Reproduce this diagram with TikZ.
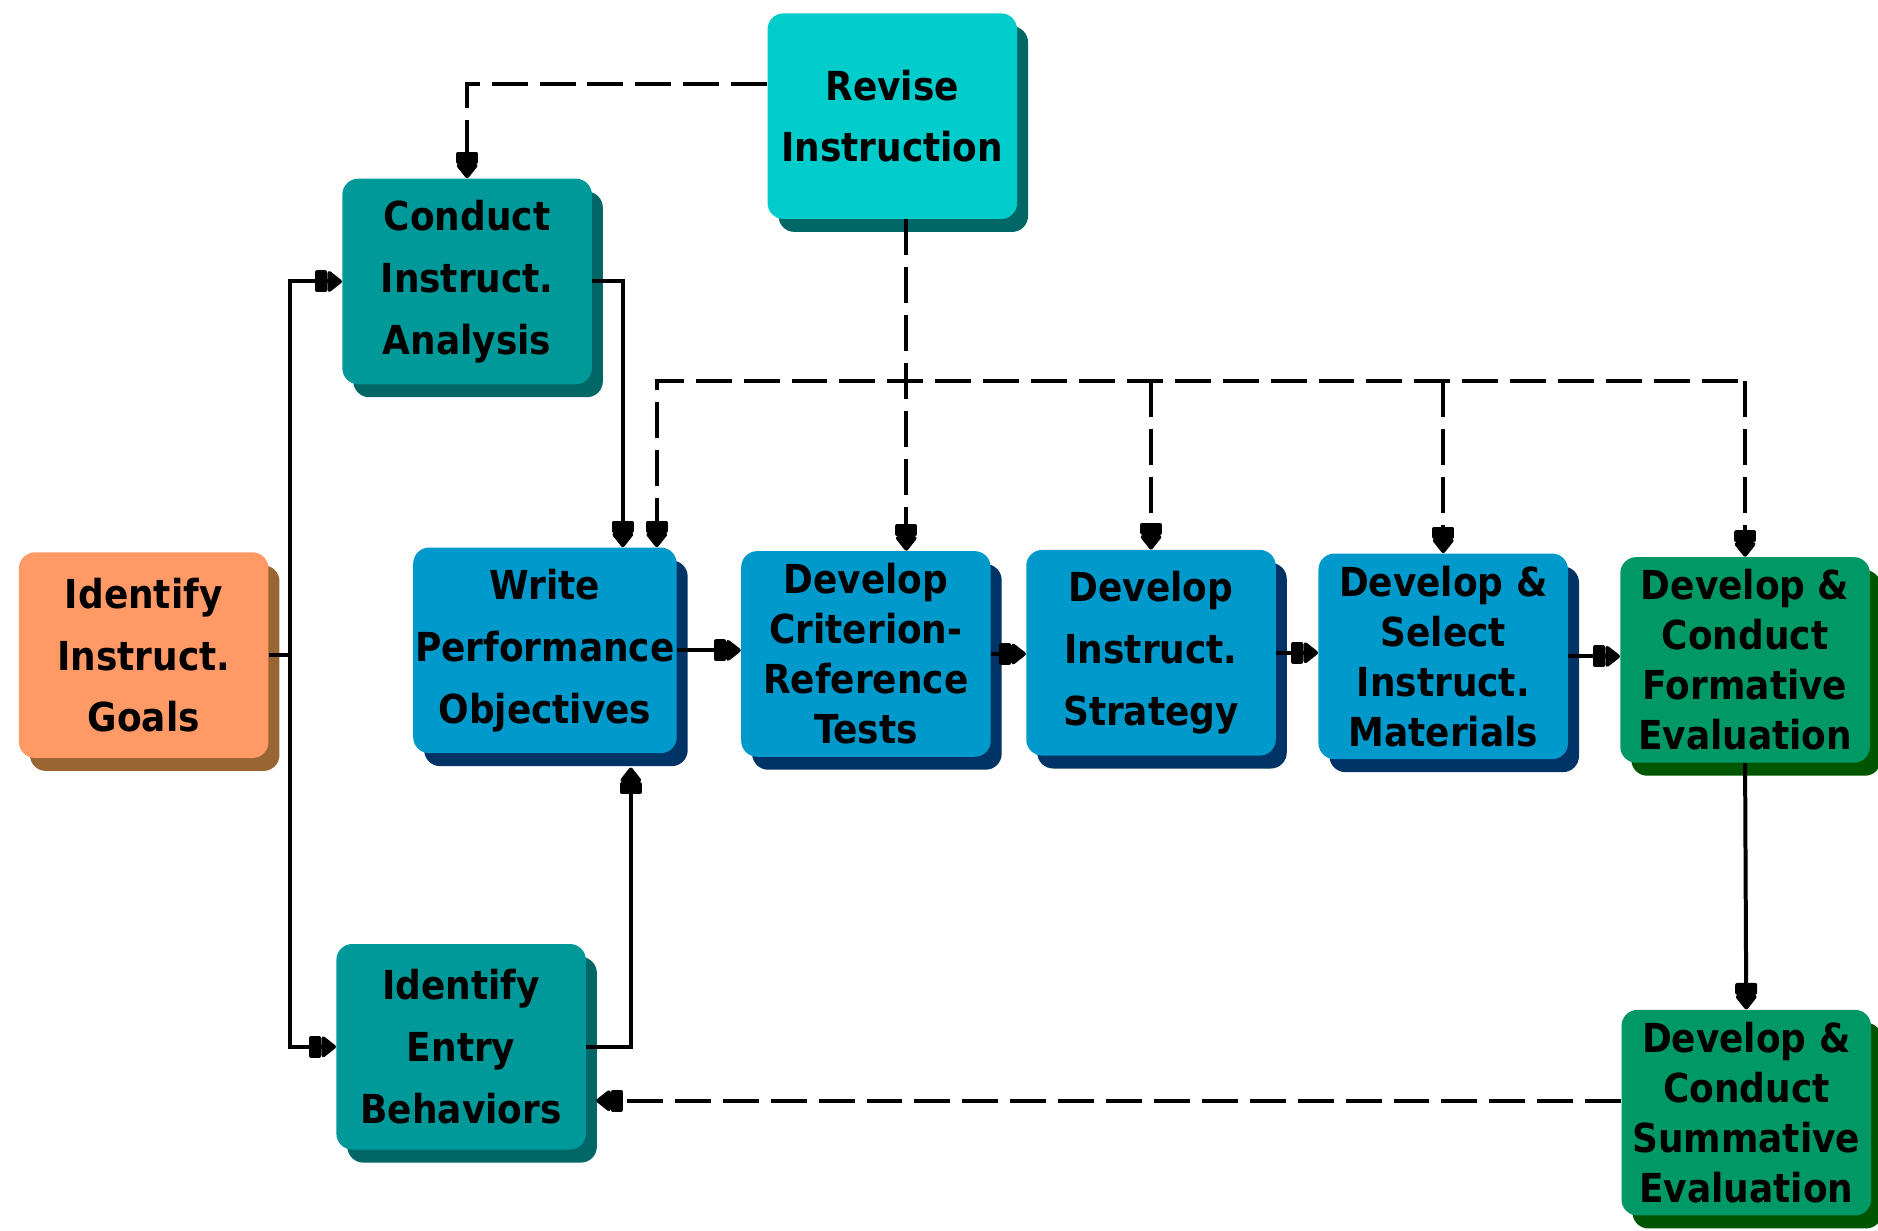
\documentclass[tikz,border=0pt]{standalone}
\usepackage{fontspec}
\setmainfont{DejaVu Sans Condensed}
\usepackage{xcolor}
\usetikzlibrary{arrows.meta, shadows}

\definecolor{goalface}{HTML}{FF9966}
\definecolor{goalshade}{HTML}{996633}
\definecolor{reviseface}{HTML}{00CCCC}
\definecolor{tealface}{HTML}{009999}
\definecolor{tealshade}{HTML}{006666}
\definecolor{blueface}{HTML}{0099CC}
\definecolor{blueshade}{HTML}{003366}
\definecolor{greenface}{HTML}{009966}
\definecolor{greenshade}{HTML}{005500}

\begin{document}
\begin{tikzpicture}[x=0.6pt, y=-0.6pt,
    box/.style = {rounded corners=8pt, minimum width=125pt, minimum height=103pt,
                  inner sep=0pt, align=center, font=\fontsize{20}{31}\selectfont\bfseries},
    tight/.style = {font=\fontsize{20}{25}\selectfont\bfseries},
    goalbox/.style = {box, fill=goalface, drop shadow={shadow xshift=5.5pt, shadow yshift=-6.5pt, fill=goalshade, opacity=1}},
    revisebox/.style = {box, fill=reviseface, drop shadow={shadow xshift=5.5pt, shadow yshift=-6.5pt, fill=tealshade, opacity=1}},
    tealbox/.style = {box, fill=tealface, drop shadow={shadow xshift=5.5pt, shadow yshift=-6.5pt, fill=tealshade, opacity=1}},
    bluebox/.style = {box, fill=blueface, drop shadow={shadow xshift=5.5pt, shadow yshift=-6.5pt, fill=blueshade, opacity=1}},
    greenbox/.style = {box, fill=greenface, drop shadow={shadow xshift=5.5pt, shadow yshift=-6.5pt, fill=greenshade, opacity=1}},
    tip/.tip = {Rectangle[length=6pt, width=11pt, round] Triangle[length=8pt, width=12pt, round]},
    link/.style = {line width=2pt, black},
    feedback/.style = {link, dash pattern=on 18pt off 6pt}]
    \useasboundingbox (0,0) rectangle (1568,1027);

    \node[revisebox] (revise) at (745,97) {Revise\\Instruction};
    \node[tealbox] (conduct) at (390,235) {Conduct\\Instruct.\\Analysis};
    \node[goalbox] (goals) at (120,547) {Identify\\Instruct.\\Goals};
    \node[bluebox, minimum width=132pt] (write) at (455,543) {Write\\Performance\\Objectives};
    \node[bluebox, tight] (criterion) at (723,546) {Develop\\Criterion-\\Reference\\Tests};
    \node[bluebox] (strategy) at (961,545) {Develop\\Instruct.\\Strategy};
    \node[bluebox, tight] (materials) at (1205,548) {Develop \&\\Select\\Instruct.\\Materials};
    \node[greenbox, tight] (formative) at (1457,551) {Develop \&\\Conduct\\Formative\\Evaluation};
    \node[greenbox, tight] (summative) at (1458,929) {Develop \&\\Conduct\\Summative\\Evaluation};
    \node[tealbox] (entry) at (385,874) {Identify\\Entry\\Behaviors};

    % main flow
    \draw[link] (goals.east) -- ++(18,0) coordinate (fork);
    \draw[link, -tip] (fork) |- (conduct.west);
    \draw[link, -tip] (fork) |- (entry.west);
    \coordinate (wTop) at ([xshift=39pt]write.north);
    \coordinate (wBot) at ([xshift=43pt, yshift=-7pt]write.south);
    \draw[link, -tip] (conduct.east) -| (wTop);
    \draw[link, -tip] (entry.east) -| (wBot);
    \draw[link, -tip] (write.east) -- (write.east -| criterion.west);
    \draw[link, -tip] (criterion.east) -- (criterion.east -| strategy.west);
    \draw[link, -tip] (strategy.east) -- (strategy.east -| materials.west);
    \draw[link, -tip] (materials.east) -- (materials.east -| formative.west);
    \draw[link, -tip] (formative.south) -- (summative.north);

    % revision loops
    \draw[feedback, -tip] ([yshift=16pt]revise.west) -| (conduct.north);
    \coordinate (drop) at ([xshift=7pt]revise.south);
    \coordinate (bus) at (757,318);
    \coordinate (wIn) at ([xshift=56pt]write.north);
    \draw[feedback, -tip] (drop) -- (drop |- criterion.north);
    \draw[feedback, tip-] (wIn) |- (formative.north |- bus);
    \foreach \n in {strategy, materials, formative}
        \draw[feedback, -tip] (\n.north |- bus) -- (\n.north);
    \coordinate (sOut) at ([yshift=6pt]summative.west);
    \draw[feedback, -tip] (sOut) -- ([xshift=5pt]sOut -| entry.east);
\end{tikzpicture}
\end{document}
